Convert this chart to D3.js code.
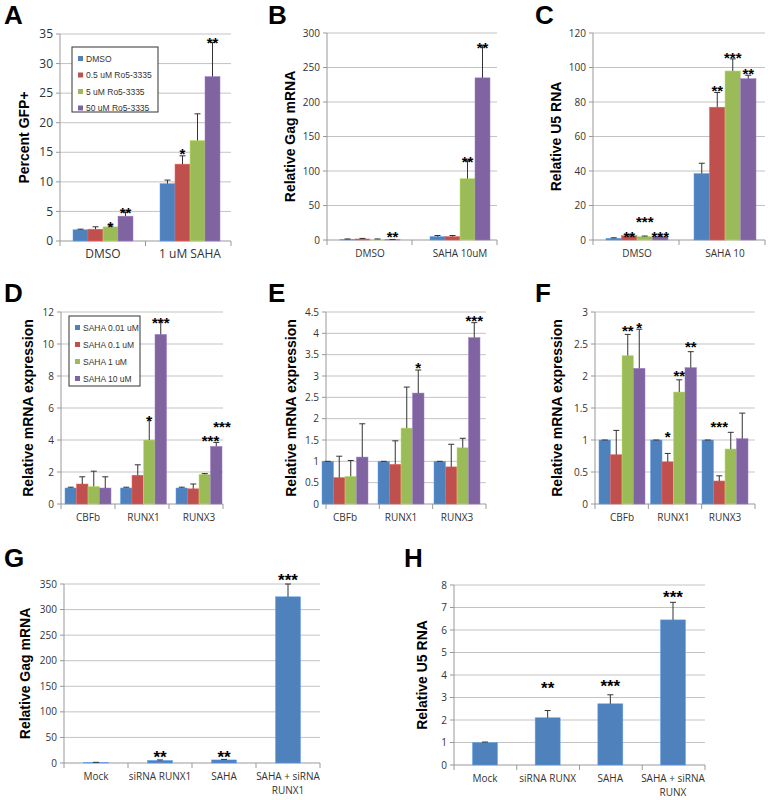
<!DOCTYPE html>
<html><head><meta charset="utf-8">
<script src="https://cdn.jsdelivr.net/npm/d3@7"></script>
<style>body{margin:0;background:#fff}svg{font-family:"Open Sans",Arial,sans-serif}</style>
</head><body><svg width="771" height="800"></svg>
<script>
const colors=["#4f81bd","#c0504d","#9bbb59","#8064a2"];
// Panel A
const aCats=["DMSO","1 uM SAHA"], aSeries=["DMSO","0.5 uM Ro5-3335","5 uM Ro5-3335","50 uM Ro5-3335"];
const aVals=[[1.9,2.0,2.4,4.2],[9.7,13,17,27.8]], aErr=[[0.1,0.4,0.3,0.7],[0.6,1.4,4.5,5.8]];
const aStars=[[0,2,"*",2.9],[0,3,"**",5.3],[1,1,"*",15.2],[1,3,"**",34]];
// Panel B
const bCats=["DMSO","SAHA 10uM"];
const bVals=[[1,1.5,1,0.5],[5,5,89,235]], bErr=[[0.5,0.8,0.5,0.3],[1.5,1.5,26,46]];
const bStars=[[0,3,"**",9],[1,2,"**",118],[1,3,"**",283]];
// Panel C
const cCats=["DMSO","SAHA 10"];
const cVals=[[1,2.5,2,2],[38.5,77,98,93.5]], cErr=[[0.3,0.5,0.3,0.3],[6,8.5,7,2]];
const cStars=[[0,1,"**",3.5],[0,2,"***",12],[0,3,"***",3.5],[1,1,"**",88],[1,2,"***",107],[1,3,"**",98]];
// Panel D
const geneCats=["CBFb","RUNX1","RUNX3"], dSeries=["SAHA 0.01 uM","SAHA 0.1 uM","SAHA 1 uM","SAHA 10 uM"];
const dVals=[[1,1.25,1.1,1],[1,1.8,4,10.6],[1,0.95,1.85,3.6]], dErr=[[0.05,0.45,0.95,0.7],[0.05,0.65,1.35,0.85],[0.05,0.3,0.05,0.25]];
const dStars=[[1,2,"*",5.4],[1,3,"***",11.5],[2,2.5,"***",4.1],[2,3.5,"***",5]];
// Panel E
const eVals=[[1,0.62,0.65,1.1],[1,0.93,1.78,2.6],[1,0.87,1.32,3.9]], eErr=[[0,0.5,0.37,0.78],[0,0.55,0.96,0.54],[0,0.53,0.22,0.35]];
const eStars=[[1,3,"*",3.25],[2,3,"***",4.35]];
// Panel F
const fVals=[[1,0.77,2.32,2.12],[1,0.66,1.75,2.13],[1,0.36,0.86,1.02]], fErr=[[0,0.38,0.33,0.61],[0,0.13,0.19,0.25],[0,0.08,0.26,0.4]];
const fStars=[[0,2,"**",2.75],[0,3,"*",2.8],[1,1,"*",1.1],[1,2,"**",2.05],[1,3,"**",2.5],[2,1,"***",1.25]];
// Panel G
const gCats=["Mock","siRNA RUNX1","SAHA","SAHA + siRNA|RUNX1"];
const gVals=[1,5,6,325], gErr=[0.3,1,1,25], gStars=["","**","**","***"], gStarV=[0,15,15,362];
// Panel H
const hCats=["Mock","siRNA RUNX","SAHA","SAHA + siRNA|RUNX"];
const hVals=[1,2.1,2.72,6.45], hErr=[0.02,0.32,0.4,0.78], hStars=["","**","***","***"], hStarV=[0,3.5,3.6,7.55];

const svg=d3.select("svg");
function panel(o){
  const g=svg.append("g");
  const y=d3.scaleLinear().domain([0,o.max]).range([o.y0,o.y1]);
  const x=d3.scalePoint().domain(o.cats).range([o.cx[0],o.cx[1]]);
  const ticks=d3.range(0,o.max+o.step/2,o.step);
  g.selectAll(".grid").data(ticks.slice(1)).join("line").attr("x1",o.xa).attr("x2",o.xr).attr("y1",d=>y(d)).attr("y2",d=>y(d)).attr("stroke","#c3c3c3").attr("stroke-width",1);
  g.append("line").attr("x1",o.xa).attr("x2",o.xa).attr("y1",o.y0).attr("y2",o.y1).attr("stroke","#999");
  g.append("line").attr("x1",o.xa).attr("x2",o.xr).attr("y1",o.y0).attr("y2",o.y0).attr("stroke","#999");
  g.selectAll(".yt").data(ticks).join("line").attr("x1",o.xa-4).attr("x2",o.xa).attr("y1",d=>y(d)).attr("y2",d=>y(d)).attr("stroke","#999");
  g.selectAll(".yl").data(ticks).join("text").attr("x",o.xa-7).attr("y",d=>y(d)).attr("dy","0.35em").attr("text-anchor","end").attr("font-size",o.fs).attr("fill","#333").text(d=>d3.format(o.fmt||"")(d));
  const n=o.cats.length, span=(o.xr-o.xa)/n;
  g.selectAll(".xt").data(d3.range(n+1)).join("line").attr("x1",i=>o.xa+i*span).attr("x2",i=>o.xa+i*span).attr("y1",o.y0).attr("y2",o.y0+5).attr("stroke","#999");
  o.cats.forEach((c,i)=>{
    const parts=c.split("|");
    parts.forEach((p,k)=>g.append("text").attr("x",x(c)).attr("y",o.y0+17+k*14).attr("text-anchor","middle").attr("font-size",o.fs).attr("fill","#333").text(p));
  });
  g.append("text").attr("transform",`translate(${o.titleX},${(o.y0+o.y1)/2}) rotate(-90)`).attr("text-anchor","middle").attr("font-size",o.tfs||14).attr("font-weight","bold").attr("font-family","Liberation Sans, Arial").text(o.title);
  g.append("text").attr("x",o.lx).attr("y",o.ly).attr("font-size",26).attr("font-weight","bold").attr("font-family","Liberation Sans, Arial").text(o.letter);
  const bw=o.bw, ns=o.vals[0].length!==undefined?o.vals[0].length:1;
  const bx=(ci,si)=>x(o.cats[ci])-ns*bw/2+si*bw;
  o.vals.forEach((row,ci)=>{
    const r=Array.isArray(row)?row:[row], er=Array.isArray(o.err[ci])?o.err[ci]:[o.err[ci]];
    r.forEach((v,si)=>{
      const col=ns===1?colors[0]:colors[si];
      g.append("rect").attr("x",bx(ci,si)).attr("width",bw).attr("y",y(v)).attr("height",o.y0-y(v)).attr("fill",col).attr("stroke",d3.color(col).brighter(0.6)).attr("stroke-width",0.5);
      const cxm=bx(ci,si)+bw/2, yt=y(v+er[si]);
      g.append("line").attr("x1",cxm).attr("x2",cxm).attr("y1",y(v)).attr("y2",yt).attr("stroke","#333");
      g.append("line").attr("x1",cxm-3).attr("x2",cxm+3).attr("y1",yt).attr("y2",yt).attr("stroke","#333");
    });
  });
  o.stars.forEach(([ci,si,t,v])=>{
    g.append("text").attr("x",bx(ci,si)+bw/2).attr("y",y(v)+8).attr("text-anchor","middle").attr("font-size",o.sfs||15).attr("font-weight","bold").attr("font-family","Liberation Sans, Arial").text(t);
  });
  if(o.legend){
    const L=o.legend;
    g.append("rect").attr("x",L.x).attr("y",L.y).attr("width",L.w).attr("height",L.h).attr("fill","#fff").attr("stroke","#333");
    L.items.forEach((t,i)=>{
      const yy=L.y+12+i*L.dy;
      g.append("rect").attr("x",L.x+6).attr("y",yy-3).attr("width",5).attr("height",5).attr("fill",colors[i]);
      g.append("text").attr("x",L.x+14).attr("y",yy).attr("dy","0.35em").attr("font-size",L.fs).attr("font-family","Liberation Sans, Arial").attr("fill","#333").text(t);
    });
  }
}
panel({cats:aCats,vals:aVals,err:aErr,stars:aStars,max:35,step:5,y0:241,y1:34,xa:60,xr:231,cx:[103,190],bw:15,fs:12,title:"Percent GFP+",titleX:29,letter:"A",lx:4,ly:24,
  legend:{x:72,y:47,w:86,h:65,dy:16.5,items:aSeries,fs:8.5}});
panel({cats:bCats,vals:bVals,err:bErr,stars:bStars,max:300,step:50,y0:240,y1:33,xa:327,xr:497,cx:[370,460],bw:15,fs:10,title:"Relative Gag mRNA",titleX:295,letter:"B",lx:268,ly:24});
panel({cats:cCats,vals:cVals,err:cErr,stars:cStars,max:120,step:20,y0:240,y1:33,xa:593,xr:765,cx:[637,725],bw:15.5,fs:10,title:"Relative U5 RNA",titleX:561,letter:"C",lx:535,ly:24});
panel({cats:geneCats,vals:dVals,err:dErr,stars:dStars,max:12,step:2,y0:504,y1:312,xa:61,xr:223,cx:[88,199],bw:11.5,fs:10,title:"Relative mRNA expression",titleX:33,letter:"D",lx:4,ly:302,
  legend:{x:69,y:316,w:71,h:70,dy:17,items:dSeries,fs:8.5}});
panel({cats:geneCats,vals:eVals,err:eErr,stars:eStars,max:4.5,step:0.5,y0:504,y1:312,xa:326,xr:486,cx:[345,457],bw:11.5,fs:10,title:"Relative mRNA expression",titleX:296,letter:"E",lx:268,ly:302});
panel({cats:geneCats,vals:fVals,err:fErr,stars:fStars,max:3,step:0.5,y0:504,y1:312,xa:595,xr:755,cx:[622,725],bw:11.5,fs:10,title:"Relative mRNA expression",titleX:562,letter:"F",lx:535,ly:302});
panel({cats:gCats,vals:gVals,err:gErr,stars:gStars.map((t,i)=>[i,0,t,gStarV[i]]),max:350,step:50,y0:763,y1:584,xa:64,xr:320,cx:[96,288],bw:25,fs:10,title:"Relative Gag mRNA",titleX:30,letter:"G",lx:4,ly:567,sfs:17});
panel({cats:hCats,vals:hVals,err:hErr,stars:hStars.map((t,i)=>[i,0,t,hStarV[i]]),max:8,step:1,y0:765,y1:585,xa:454,xr:705,cx:[485,673],bw:25,fs:10,title:"Relative U5 RNA",titleX:427,letter:"H",lx:404,ly:567,sfs:17});
</script></body></html>
